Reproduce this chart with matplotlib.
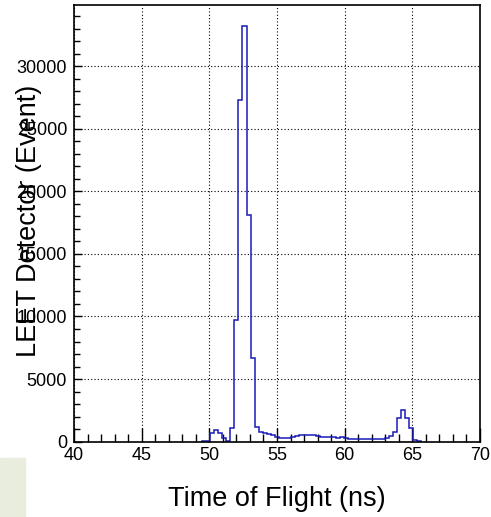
import numpy as np
import matplotlib
matplotlib.use('Agg')
import matplotlib.pyplot as plt
from matplotlib.ticker import MultipleLocator

plt.rcParams['font.family'] = ['Liberation Sans', 'DejaVu Sans']

# histogram: 0.3 ns bins starting at 49.45 ns
bin_lo = 49.45
bin_width = 0.3
counts = [20, 60, 670, 900, 660, 300, 70,
          1120, 9700, 27340, 33220, 18150, 6650, 1200,
          750, 700, 610, 550, 350, 270, 270, 270, 350, 470,
          520, 530, 530, 520, 450, 400, 400, 400, 330, 320,
          400, 300, 230, 180, 190, 185, 190, 195, 190, 200,
          210, 320, 420, 750, 1860, 2530, 1860, 1120, 150, 30]

x_ticks = [40, 45, 50, 55, 60, 65, 70]
y_ticks = [0, 5000, 10000, 15000, 20000, 25000, 30000]

edges = bin_lo + bin_width * np.arange(len(counts) + 1)

fig = plt.figure(figsize=(4.91, 5.17), dpi=100)
ax = fig.add_axes([74 / 491, 1 - 441.6 / 517, 406 / 491, 436.6 / 517])

ax.stairs(counts, edges, color='#1a1ab8', lw=1.1, zorder=2)

ax.set_xlim(40, 70)
ax.set_ylim(0, 34900)
ax.set_xticks(x_ticks)
ax.set_yticks(y_ticks)
ax.xaxis.set_minor_locator(MultipleLocator(1))
ax.yaxis.set_minor_locator(MultipleLocator(1000))
ax.tick_params(which='both', direction='in', top=False, right=False,
               labelsize=13, color='black')
ax.tick_params(which='major', length=10, width=1)
ax.tick_params(which='minor', length=6, width=1)
ax.tick_params(axis='y', which='major', length=6)
ax.tick_params(axis='y', which='minor', length=4)
ax.tick_params(axis='x', pad=4)
ax.tick_params(axis='y', pad=5)
ax.grid(True, which='major', color='black', ls=(0, (1, 2)), lw=0.8)
for s in ax.spines.values():
    s.set_linewidth(1.2)
    s.set_zorder(3)

ax.set_xlabel('Time of Flight (ns)', fontsize=19.5, labelpad=16)
ax.set_ylabel('LEET Detector (Event)', fontsize=19.5)
ax.yaxis.set_label_coords(-0.079, 0.505)

# pale box at the lower left corner
fig.patches.append(plt.Rectangle((0, 0), 25 / 491, 59 / 517,
                                 transform=fig.transFigure,
                                 color='#e9eddd', zorder=0))

fig.savefig('out.png', dpi=100)
